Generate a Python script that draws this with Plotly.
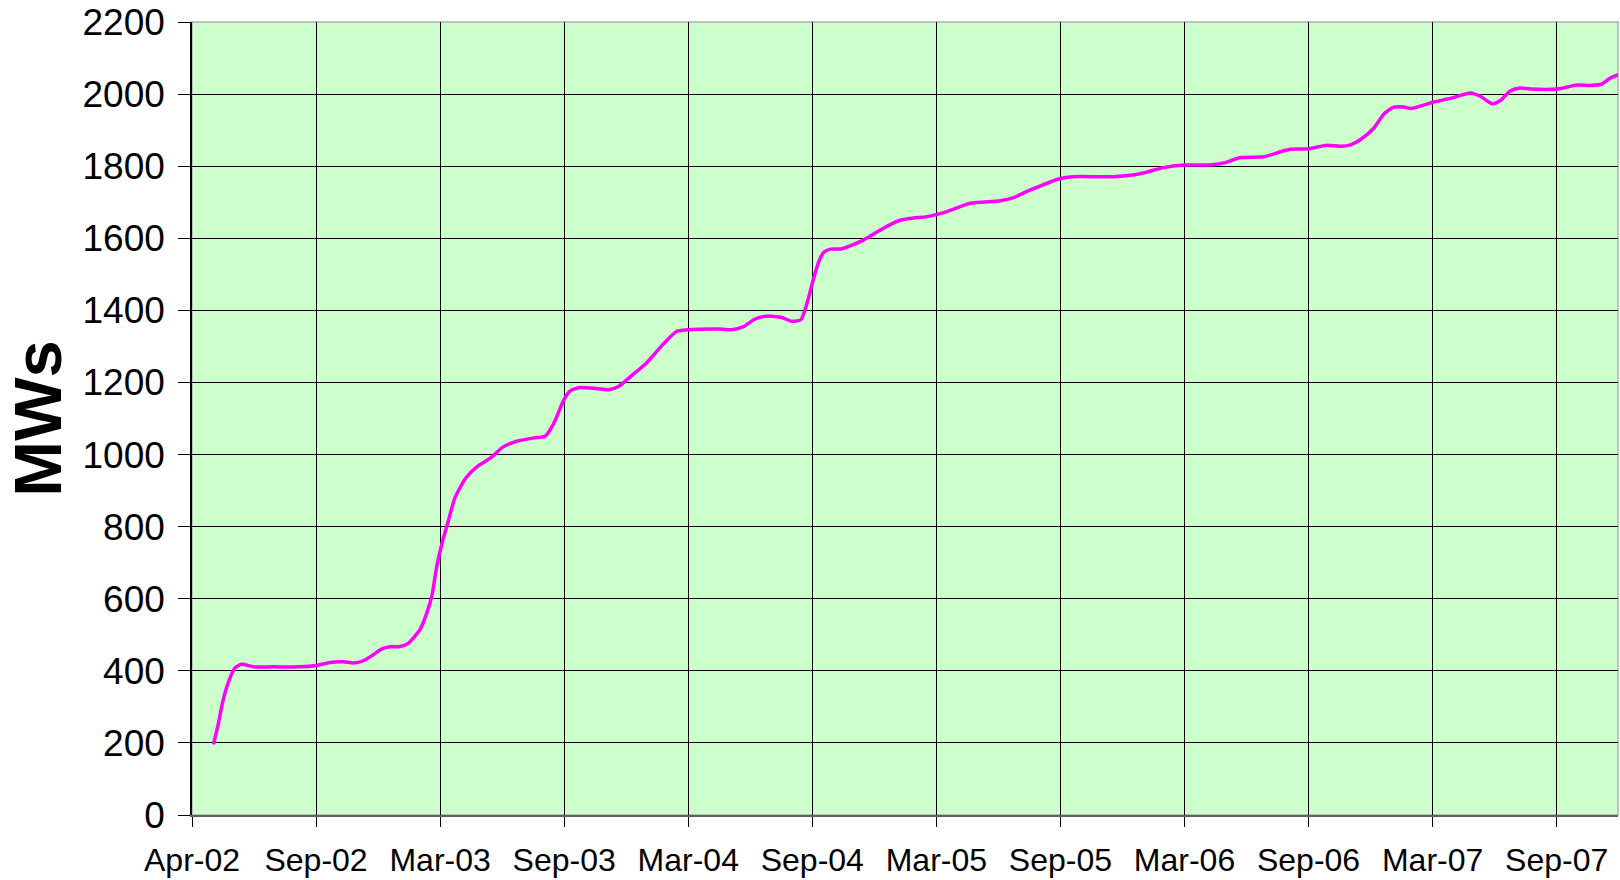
import plotly.graph_objects as go

# Week offsets from 1 Apr 2002 and installed capacity (MW)
weeks = [4.5, 5.5, 6.4, 7.6, 9.0, 10.4, 12.9, 17.0, 22.6, 26.1, 28.9, 31.7, 33.8, 35.6, 37.7,
         39.8, 41.5, 43.4, 45.4, 47.8, 49.2, 50.3, 51.3, 52.4, 53.7, 55.1, 57.4, 59.7, 62.5,
         65.3, 68.1, 71.6, 74.0, 75.8, 77.9, 79.2, 81.3, 84.8, 87.3, 89.4, 92.5, 95.3, 98.8,
         101.6, 103.7, 110.7, 113.1, 115.6, 118.0, 120.5, 123.6, 125.6, 127.6, 129.0, 130.3,
         131.5, 132.4, 133.8, 136.2, 140.7, 144.9, 148.4, 151.2, 154.0, 158.2, 163.1, 169.4,
         172.2, 175.7, 182.0, 184.8, 193.2, 198.7, 203.6, 207.8, 213.8, 216.6, 219.7, 224.6,
         228.1, 230.2, 233.7, 237.9, 240.7, 242.8, 244.9, 247.7, 249.8, 251.9, 254.0, 255.4,
         260.2, 263.7, 267.9, 270.0, 272.5, 274.2, 276.3, 278.4, 280.5, 286.1, 290.3, 293.1,
         295.5, 297.3, 299.4]
mws = [196, 252, 312, 367, 408, 418, 411, 411, 411, 415, 423, 425, 422, 426, 442,
       461, 467, 467, 477, 515, 560, 610, 690, 754, 815, 880, 935, 966, 990,
       1022, 1037, 1046, 1051, 1086, 1151, 1176, 1186, 1183, 1180, 1189, 1223, 1255, 1307,
       1342, 1346, 1348, 1346, 1355, 1376, 1384, 1380, 1370, 1374, 1425, 1490,
       1540, 1561, 1570, 1571, 1595, 1628, 1650, 1656, 1660, 1674, 1697, 1704,
       1713, 1734, 1766, 1771, 1771, 1779, 1796, 1803, 1804, 1810, 1824, 1826,
       1840, 1847, 1848, 1858, 1855, 1859, 1874, 1906, 1945, 1964, 1964, 1960,
       1978, 1988, 2003, 1994, 1973, 1982, 2009, 2017, 2014, 2014, 2025, 2024,
       2028, 2045, 2056]

tick_weeks = [0, 26, 52, 78, 104, 130, 156, 182, 208, 234, 260, 286]
tick_labels = ["Apr-02", "Sep-02", "Mar-03", "Sep-03", "Mar-04", "Sep-04",
               "Mar-05", "Sep-05", "Mar-06", "Sep-06", "Mar-07", "Sep-07"]
y_ticks = list(range(0, 2201, 200))

FONT = "Arial, 'Liberation Sans', sans-serif"

fig = go.Figure()
fig.add_trace(go.Scatter(
    x=weeks, y=mws, mode="lines",
    line=dict(color="#FF00FF", width=3.5, shape="spline", smoothing=0.6),
    showlegend=False, hoverinfo="skip"))

fig.update_layout(
    width=1620, height=880,
    margin=dict(l=192, r=2, t=21, b=64),
    paper_bgcolor="white",
    plot_bgcolor="#CCFFCC",
    font=dict(family=FONT, color="black"),
    shapes=[dict(type="rect", xref="paper", yref="paper", x0=0, x1=1, y0=0, y1=1,
                 line=dict(color="#B0B0B0", width=1.5), layer="below")],
)
fig.update_xaxes(
    range=[0, 298.85], tickmode="array", tickvals=tick_weeks, ticktext=tick_labels,
    showgrid=True, gridcolor="black", gridwidth=1.2, zeroline=False,
    showline=True, linecolor="#606060", linewidth=2,
    ticks="outside", ticklen=10, tickcolor="black", tickwidth=1.2,
    tickfont=dict(size=32, family=FONT), ticklabelstandoff=6,
)
fig.update_yaxes(
    range=[0, 2200], tickmode="array", tickvals=y_ticks,
    showgrid=True, gridcolor="black", gridwidth=1.2, zeroline=False,
    showline=True, linecolor="black", linewidth=1.5,
    ticks="outside", ticklen=12, tickcolor="black", tickwidth=1.2,
    tickfont=dict(size=37, family=FONT), ticklabelstandoff=6,
    title=dict(text="<b>MWs</b>", font=dict(size=67, family=FONT), standoff=14),
)

fig.write_html("out.html", config={"displayModeBar": False},
               post_script="document.body.style.margin='0';document.body.style.overflow='hidden';")
